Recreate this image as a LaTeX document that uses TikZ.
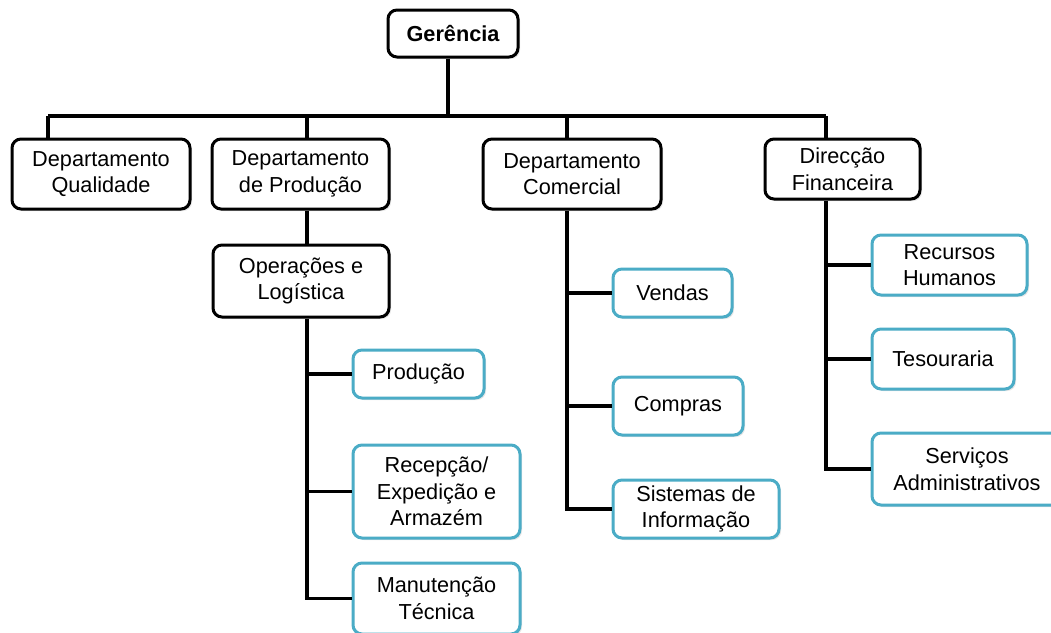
\documentclass[tikz,border=0pt]{standalone}
\usepackage{fontspec}
\setmainfont{Liberation Sans}
\usetikzlibrary{shadows,positioning}

\begin{document}
\begin{tikzpicture}[x=1pt,y=-1pt]
  \definecolor{orgteal}{RGB}{75,172,198}
  \tikzset{
    unit/.style={draw=black,fill=white,rounded corners=9pt,line width=3pt,
      align=center,inner sep=2pt,font=\fontsize{21.7}{26.5}\selectfont,
      drop shadow={shadow xshift=2pt,shadow yshift=-2pt,opacity=0.2}},
    leaf/.style={unit,draw=orgteal},
    link/.style={line width=3.5pt,draw=black}
  }
  \clip (0,0) rectangle (1051,632);
  \node[unit,font=\fontsize{21.7}{26.5}\selectfont\bfseries,minimum width=130pt,minimum height=47pt] (ger) at (453,33.5) {Gerência};
  \node[unit,minimum width=178pt,minimum height=70pt] (qual) at (101,174) {Departamento\\Qualidade};
  \node[unit,minimum width=177pt,minimum height=70pt] (prod) at (300.5,174) {Departamento\\de Produção};
  \node[unit,minimum width=178pt,minimum height=70pt] (com) at (572,174) {Departamento\\Comercial};
  \node[unit,minimum width=155pt,minimum height=60pt] (fin) at (842.5,169) {Direcção\\Financeira};
  \node[unit,minimum width=176pt,minimum height=72pt] (ops) at (301,281) {Operações e\\Logística};
  \node[leaf,minimum width=131pt,minimum height=48pt] (producao) at (418.5,374) {Produção};
  \node[leaf,minimum width=167pt,minimum height=93pt] (recep) at (436.5,491.5) {Recepção/\\Expedição e\\Armazém};
  \node[leaf,minimum width=167pt,minimum height=71pt] (manut) at (436.5,598.5) {Manutenção\\Técnica};
  \node[leaf,minimum width=119pt,minimum height=48pt] (vendas) at (672.5,293) {Vendas};
  \node[leaf,minimum width=130pt,minimum height=58pt] (compras) at (678,406) {Compras};
  \node[leaf,minimum width=166pt,minimum height=58pt] (sist) at (696,509) {Sistemas de\\Informação};
  \node[leaf,minimum width=155pt,minimum height=60pt] (rh) at (949.5,265) {Recursos\\Humanos};
  \node[leaf,minimum width=142pt,minimum height=60pt] (tes) at (943,359) {Tesouraria};
  \node[leaf,minimum width=190pt,minimum height=72pt] (serv) at (967,469) {Serviços\\Administrativos};
  \coordinate (busG) at (448,116);
  \coordinate (busL) at (48,116);
  \coordinate (busP) at (307,116);
  \coordinate (busC) at (567,116);
  \coordinate (busR) at (826,116);
  \draw[link] (ger.south -| busG) -- (busG);
  \draw[link] (busL) -- (busR);
  \draw[link] (busL) -- (busL |- qual.north);
  \draw[link] (busP) -- (busP |- prod.north);
  \draw[link] (busC) -- (busC |- com.north);
  \draw[link] (busR) -- (busR |- fin.north);
  \draw[link] (prod.south -| busP) -- (ops.north -| busP);
  \draw[link] (ops.south -| busP) |- (manut.west);
  \draw[link] (producao.west) -- (producao.west -| busP);
  \draw[link] (recep.west) -- (recep.west -| busP);
  \draw[link] (com.south -| busC) |- (sist.west);
  \draw[link] (vendas.west) -- (vendas.west -| busC);
  \draw[link] (compras.west) -- (compras.west -| busC);
  \draw[link] (fin.south -| busR) |- (serv.west);
  \draw[link] (rh.west) -- (rh.west -| busR);
  \draw[link] (tes.west) -- (tes.west -| busR);
\end{tikzpicture}
\end{document}
